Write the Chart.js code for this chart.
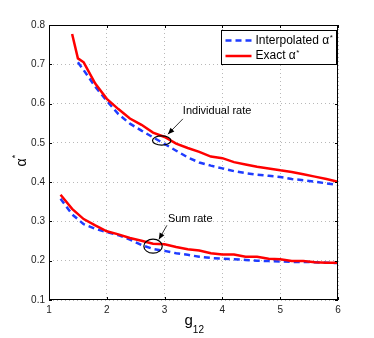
<!DOCTYPE html>
<html>
<head>
<meta charset="utf-8">
<script src="https://cdn.jsdelivr.net/npm/chart.js@4"></script>
<style>
  html, body { margin: 0; padding: 0; background: #fff; }
  #wrap { width: 374px; height: 338px; }
</style>
</head>
<body>
<div id="wrap"><canvas id="alphaChart" width="374" height="338"></canvas></div>
<script>
// g12 grid for the two curve families
const gInd = [1.4, 1.5, 1.6, 1.8, 2.0, 2.2, 2.4, 2.6, 2.8, 3.0, 3.2, 3.4, 3.6, 3.8, 4.0, 4.2, 4.4, 4.6, 4.8, 5.0, 5.2, 5.4, 5.6, 5.8, 6.0];
const gSum = [1.2, 1.4, 1.6, 1.8, 2.0, 2.2, 2.4, 2.6, 2.8, 3.0, 3.2, 3.4, 3.6, 3.8, 4.0, 4.2, 4.4, 4.6, 4.8, 5.0, 5.2, 5.4, 5.6, 5.8, 6.0];

// individual rate
const exactInd = [0.777, 0.715, 0.705, 0.651, 0.612, 0.586, 0.562, 0.546, 0.526, 0.515, 0.498, 0.487, 0.477, 0.465, 0.461, 0.451, 0.445, 0.439, 0.435, 0.430, 0.426, 0.420, 0.414, 0.408, 0.401];
const interpInd = [null, 0.705, 0.685, 0.643, 0.607, 0.573, 0.549, 0.531, 0.514, 0.497, 0.480, 0.463, 0.450, 0.442, 0.435, 0.428, 0.423, 0.419, 0.416, 0.413, 0.408, 0.405, 0.401, 0.397, 0.393];

// sum rate
const exactSum = [0.368, 0.332, 0.306, 0.290, 0.275, 0.267, 0.258, 0.251, 0.243, 0.242, 0.235, 0.229, 0.226, 0.219, 0.216, 0.216, 0.210, 0.210, 0.205, 0.204, 0.199, 0.199, 0.196, 0.195, 0.195];
const interpSum = [0.358, 0.318, 0.293, 0.281, 0.273, 0.265, 0.254, 0.240, 0.230, 0.225, 0.219, 0.215, 0.210, 0.207, 0.205, 0.204, 0.202, 0.200, 0.199, 0.198, 0.197, 0.197, 0.196, 0.195, 0.194];

const xTicks = [1, 2, 3, 4, 5, 6];
const yTicks = [0.1, 0.2, 0.3, 0.4, 0.5, 0.6, 0.7, 0.8];

const RED = '#ff0000';
const BLUE = '#1f3cff';

function pts(xs, ys) {
    return xs.map((x, i) => ({ x: x, y: ys[i] })).filter(p => p.y !== null);
}

// annotations in data units
const notes = [
    { text: 'Individual rate', label: [3.316, 0.582], from: [3.316, 0.561], to: [3.057, 0.522], ell: [2.95, 0.506], rx: 9.2, ry: 4.7 },
    { text: 'Sum rate', label: [3.057, 0.305], from: [3.04, 0.290], to: [2.90, 0.254], ell: [2.80, 0.237], rx: 9.2, ry: 7 }
];

const lineStyle = (color, dashed) => ({
    borderColor: color,
    backgroundColor: color,
    borderWidth: 2.5,
    borderDash: dashed ? [6, 4] : [],
    pointRadius: 0,
    tension: 0,
    fill: false,
    showLine: true,
    order: dashed ? 1 : 0
});

const extras = {
    id: 'extras',
    afterDraw(chart) {
        const ctx = chart.ctx;
        const a = chart.chartArea;
        const xs = chart.scales.x, ys = chart.scales.y;
        ctx.save();

        // frame
        ctx.strokeStyle = '#000';
        ctx.lineWidth = 1;
        ctx.strokeRect(a.left + 0.5, a.top + 0.5, a.right - a.left - 1, a.bottom - a.top - 1);

        // inward ticks
        ctx.beginPath();
        xTicks.forEach(v => {
            const px = Math.round(xs.getPixelForValue(v)) + 0.5;
            ctx.moveTo(px, a.bottom); ctx.lineTo(px, a.bottom - 3);
            ctx.moveTo(px, a.top); ctx.lineTo(px, a.top + 3);
        });
        yTicks.forEach(v => {
            const py = Math.round(ys.getPixelForValue(v)) + 0.5;
            ctx.moveTo(a.left, py); ctx.lineTo(a.left + 3, py);
            ctx.moveTo(a.right, py); ctx.lineTo(a.right - 3, py);
        });
        ctx.stroke();

        // annotations
        ctx.fillStyle = '#000';
        ctx.font = '11px "Liberation Sans", Arial, sans-serif';
        ctx.textBaseline = 'middle';
        ctx.textAlign = 'left';
        notes.forEach(n => {
            const cx = xs.getPixelForValue(n.ell[0]), cy = ys.getPixelForValue(n.ell[1]);
            ctx.beginPath();
            ctx.ellipse(cx, cy, n.rx, n.ry, 0, 0, Math.PI * 2);
            ctx.lineWidth = 1.2;
            ctx.stroke();

            ctx.fillText(n.text, xs.getPixelForValue(n.label[0]), ys.getPixelForValue(n.label[1]));

            const x1 = xs.getPixelForValue(n.from[0]), y1 = ys.getPixelForValue(n.from[1]);
            const x2 = xs.getPixelForValue(n.to[0]), y2 = ys.getPixelForValue(n.to[1]);
            ctx.lineWidth = 0.8;
            ctx.beginPath(); ctx.moveTo(x1, y1); ctx.lineTo(x2, y2); ctx.stroke();
            const ang = Math.atan2(y2 - y1, x2 - x1);
            ctx.beginPath();
            ctx.moveTo(x2, y2);
            ctx.lineTo(x2 - 7 * Math.cos(ang - 0.4), y2 - 7 * Math.sin(ang - 0.4));
            ctx.lineTo(x2 - 7 * Math.cos(ang + 0.4), y2 - 7 * Math.sin(ang + 0.4));
            ctx.closePath();
            ctx.fill();
        });

        // legend box
        const lx = a.right - 116.5, ly = a.top + 5.5;
        ctx.fillStyle = '#fff';
        ctx.fillRect(lx, ly, 115, 34);
        ctx.strokeStyle = '#000';
        ctx.lineWidth = 1;
        ctx.strokeRect(lx, ly, 115, 34);
        const rows = [
            { label: 'Interpolated \u03b1', color: BLUE, dash: [6, 4] },
            { label: 'Exact \u03b1', color: RED, dash: [] }
        ];
        rows.forEach((r, i) => {
            const y = ly + 10 + i * 15.5;
            ctx.strokeStyle = r.color;
            ctx.lineWidth = 2.5;
            ctx.setLineDash(r.dash);
            ctx.beginPath(); ctx.moveTo(lx + 4, y); ctx.lineTo(lx + 30, y); ctx.stroke();
            ctx.setLineDash([]);
            ctx.fillStyle = '#000';
            ctx.font = '12px "Liberation Sans", Arial, sans-serif';
            ctx.textBaseline = 'middle';
            ctx.fillText(r.label, lx + 34, y);
            const w = ctx.measureText(r.label).width;
            ctx.font = '8px "Liberation Sans", Arial, sans-serif';
            ctx.fillText('*', lx + 34 + w + 0.5, y - 3);
        });

        // y title: alpha*
        ctx.fillStyle = '#000';
        ctx.save();
        ctx.translate(22, (a.top + a.bottom) / 2);
        ctx.rotate(-Math.PI / 2);
        ctx.font = '14px "Liberation Sans", Arial, sans-serif';
        ctx.textAlign = 'center';
        ctx.textBaseline = 'middle';
        ctx.fillText('\u03b1', 0, 0);
        ctx.font = '9px "Liberation Sans", Arial, sans-serif';
        ctx.fillText('*', 6, -6);
        ctx.restore();

        // x title: g12
        const gx = (a.left + a.right) / 2 - 9;
        ctx.textAlign = 'left';
        ctx.textBaseline = 'alphabetic';
        ctx.font = '15px "Liberation Sans", Arial, sans-serif';
        ctx.fillText('g', gx, 325);
        const gw = ctx.measureText('g').width;
        ctx.font = '10px "Liberation Sans", Arial, sans-serif';
        ctx.fillText('12', gx + gw, 333);

        ctx.restore();
    }
};

new Chart(document.getElementById('alphaChart'), {
    type: 'scatter',
    data: {
        datasets: [
            Object.assign({ label: 'Exact individual', data: pts(gInd, exactInd) }, lineStyle(RED, false)),
            Object.assign({ label: 'Interpolated individual', data: pts(gInd, interpInd) }, lineStyle(BLUE, true)),
            Object.assign({ label: 'Exact sum', data: pts(gSum, exactSum) }, lineStyle(RED, false)),
            Object.assign({ label: 'Interpolated sum', data: pts(gSum, interpSum) }, lineStyle(BLUE, true))
        ]
    },
    options: {
        responsive: false,
        animation: false,
        layout: { padding: { left: 0, top: 25, right: 36, bottom: 0 } },
        plugins: {
            legend: { display: false },
            tooltip: { enabled: false }
        },
        scales: {
            x: {
                type: 'linear',
                min: 1, max: 6,
                afterBuildTicks: s => { s.ticks = xTicks.map(v => ({ value: v })); },
                afterFit: s => { s.height = 38; },
                ticks: {
                    color: '#222',
                    font: { size: 10, family: '"Liberation Sans", Arial, sans-serif' },
                    padding: 4,
                    maxRotation: 0,
                    callback: v => String(v)
                },
                grid: { color: '#b8b8b8', lineWidth: 1, drawTicks: false },
                border: { display: false, dash: [1, 3] }
            },
            y: {
                min: 0.1, max: 0.8,
                afterBuildTicks: s => { s.ticks = yTicks.map(v => ({ value: v })); },
                afterFit: s => { s.width = 49; },
                ticks: {
                    color: '#222',
                    font: { size: 10, family: '"Liberation Sans", Arial, sans-serif' },
                    padding: 4,
                    callback: v => v.toFixed(1)
                },
                grid: { color: '#b8b8b8', lineWidth: 1, drawTicks: false },
                border: { display: false, dash: [1, 3] }
            }
        }
    },
    plugins: [extras]
});
</script>
</body>
</html>
